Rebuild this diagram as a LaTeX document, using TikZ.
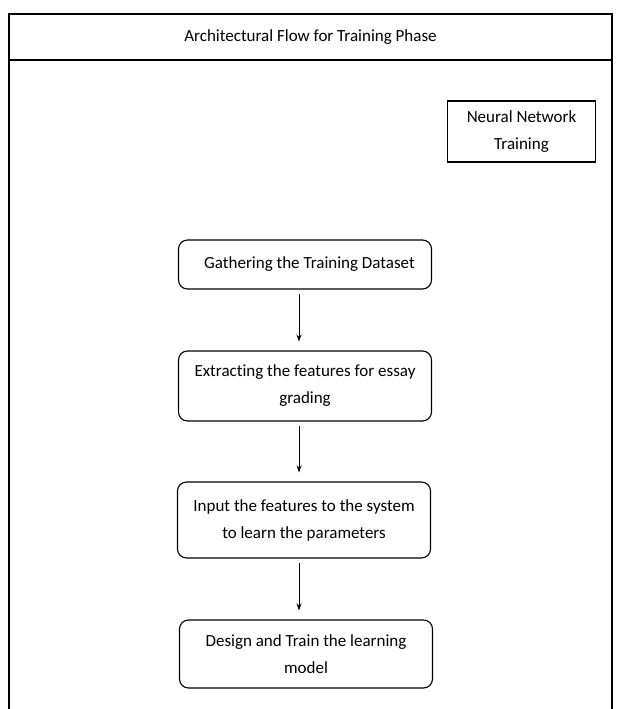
\documentclass[tikz,border=0pt]{standalone}
\usepackage{fontspec}
\setmainfont{Carlito}[Ligatures=NoCommon]
\usetikzlibrary{arrows.meta}
\begin{document}
\begin{tikzpicture}[x=1pt,y=-1pt,
  every node/.style={font=\fontsize{17}{27}\selectfont, align=center, inner sep=0pt},
  stepbox/.style={draw, line width=1.1pt, rounded corners=9pt, minimum width=253pt},
  plainbox/.style={draw, line width=1.1pt, minimum width=148pt, minimum height=61pt},
  flow/.style={line width=0.9pt, -{Stealth[length=7pt,width=5pt]}, shorten <=4pt, shorten >=9pt}]
\useasboundingbox (0,0) rectangle (620,709);
\draw[line width=1.3pt] (9,709) -- (9,14) -- (612,14) -- (612,709);
\draw[line width=1.3pt] (9,60) -- (612,60);
\node (title) at (310.5,37) {Architectural Flow for Training Phase};
\node[plainbox] (nn) at (521.5,131.5) {Neural Network\\Training};
\node[stepbox, minimum height=49pt] (b1) at (305,264.5) {\hspace*{9pt}Gathering the Training Dataset};
\node[stepbox, minimum height=70pt] (b2) at (305,386) {Extracting the features for essay\\grading};
\node[stepbox, minimum height=76pt] (b3) at (304,520) {Input the features to the system\\to learn the parameters};
\node[stepbox, minimum height=68pt] (b4) at (306,654) {Design and Train the learning\\model};
\draw[flow] ([xshift=-6pt]b1.south) -- ([xshift=-6pt]b1.south |- b2.north);
\draw[flow] ([xshift=-6pt]b2.south) -- ([xshift=-6pt]b2.south |- b3.north);
\draw[flow] ([xshift=-5pt]b3.south) -- ([xshift=-5pt]b3.south |- b4.north);
\end{tikzpicture}
\end{document}
